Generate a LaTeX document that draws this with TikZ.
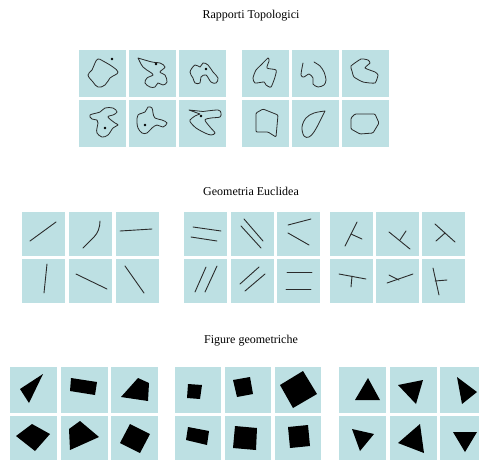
\documentclass[tikz,border=0pt]{standalone}
\usepackage{fontspec}
\setmainfont{Liberation Serif}
\definecolor{tilebg}{HTML}{BDE0E3}
\definecolor{ink}{HTML}{2B2B2B}
\newcommand\tile[5]{\begin{scope}[shift={(#1,#2)}]\fill[tilebg] (0,0) rectangle (#3,#4);#5\end{scope}}
\begin{document}
\begin{tikzpicture}[x=1pt,y=-1pt,
  crv/.style={draw=ink,line width=0.8pt,line join=round,line cap=round},
  seg/.style={draw=ink,line width=0.9pt,line cap=round},
  blk/.style={fill=black},
  ttl/.style={font=\fontsize{12}{14}\selectfont,anchor=base,inner sep=0pt}]
\useasboundingbox (0,0) rectangle (479,459);
\clip (0,0) rectangle (479,459);

% titles
\node[ttl] (t1) at (251,18) {Rapporti Topologici};
\node[ttl] (t2) at (251,195) {Geometria Euclidea};
\node[ttl] (t3) at (251,343) {Figure geometriche};

% ---------- Rapporti topologici, group 1
\tile{79}{50}{47}{47}{
  \draw[crv] plot[smooth cycle,tension=0.7] coordinates {(19,9) (24,11) (34,17) (39,22) (36,25) (31,28) (26,35) (19,37) (14,32) (9,25) (13,20) (16,13)};
  \fill (33,9) circle (1.4);}
\tile{129}{50}{47}{47}{
  \draw[crv] plot[smooth,tension=0.6] coordinates {(9,8) (23,12) (31,13) (36,17) (31,22) (36,25) (38,32) (34,35) (29,33) (26,37) (21,37) (16,33) (18,28) (24,25) (21,22) (14,17) (9,8)};
  \fill (27,14) circle (1.4);}
\tile{179}{50}{47}{47}{
  \draw[crv] plot[smooth cycle,tension=0.6] coordinates {(11,22) (16,15) (21,17) (24,13) (29,15) (34,22) (39,28) (37,33) (32,32) (27,25) (22,27) (21,33) (16,33) (14,28)};
  \fill (27,19) circle (1.4);}
\tile{79}{100}{47}{47}{
  \draw[crv] plot[smooth cycle,tension=0.6] coordinates {(11,15) (21,12) (26,8) (34,8) (38,12) (34,15) (29,17) (36,23) (39,25) (34,28) (29,35) (23,37) (18,33) (18,28) (19,23) (18,20) (13,19)};
  \fill (26,28) circle (1.4);}
\tile{129}{100}{47}{47}{
  \draw[crv] plot[smooth cycle,tension=0.6] coordinates {(9,15) (16,12) (19,7) (23,8) (24,13) (26,18) (33,20) (38,23) (34,27) (28,25) (23,28) (18,33) (13,33) (9,28) (8,22)};
  \fill (16,25) circle (1.4);}
\tile{179}{100}{47}{47}{
  \draw[crv] plot[smooth,tension=0.5] coordinates {(21,14) (16,16) (11,20) (12,23) (17,28) (26,33) (32,35) (36,33) (31,27) (26,20) (32,18) (41,17) (42,13) (39,10) (24,11.5)} -- (10,10) -- (21,14);
  \fill (22,16) circle (1.4);}

% ---------- Rapporti topologici, group 2
\tile{242}{50}{47}{47}{
  \draw[crv] plot[smooth cycle,tension=0.4] coordinates {(26,8) (27,11) (25,18) (34,20) (33,27) (29,37) (24,35) (22,32) (13,33) (11,28) (14,20) (19,15)};}
\tile{292}{50}{47}{47}{
  \draw[crv] plot[smooth,tension=0.5] coordinates {(11,13) (9,25) (12,27) (17,24) (21,28) (21,34) (26,37) (32,35) (34,30) (32,22) (28,16) (22,12)};}
\tile{342}{50}{47}{47}{
  \draw[crv] plot[smooth cycle,tension=0.3] coordinates {(9,16) (19,9) (26,10) (28,13) (23,18) (33,22) (36,25) (33,33) (21,32) (12,27) (10,21)};}
\tile{242}{100}{47}{47}{
  \draw[crv,rounded corners=1pt] (14,13) -- (21,9) -- (36,15) -- (34,37) -- (26,32) -- (14,32) -- cycle;}
\tile{292}{100}{47}{47}{
  \draw[crv] plot[smooth,tension=0.6] coordinates {(33,11) (22,13) (14,18) (10,27) (12,36) (17,37) (22,32) (27,23) (33,11)};}
\tile{342}{100}{47}{47}{
  \draw[crv,rounded corners=1pt] (9,18) -- (13,14) -- (33,14) -- (37,23) -- (31,33) -- (18,34) -- (9,29) -- cycle;}

% ---------- Geometria euclidea, group A
\tile{22}{212}{43}{44}{\draw[seg] (8,29) -- (34,10);}
\tile{69}{212}{43}{44}{\draw[seg] (14,36) -- (25,25) .. controls (29,21) and (31,15) .. (31,9);}
\tile{116}{212}{43}{44}{\draw[seg] (4,19) -- (36,17);}
\tile{22}{259}{43}{44}{\draw[seg] (22,34) -- (25,5);}
\tile{69}{259}{43}{44}{\draw[seg] (7,15) -- (38,30);}
\tile{116}{259}{43}{44}{\draw[seg] (9,7) -- (28,34);}

% group B
\tile{184}{212}{43}{44}{\draw[seg] (9,15) -- (37,19); \draw[seg] (7,25) -- (33,29);}
\tile{231}{212}{43}{44}{\draw[seg] (13,7) -- (32,29); \draw[seg] (10,14) -- (30,36);}
\tile{277}{212}{43}{44}{\draw[seg] (11,13) -- (34,7); \draw[seg] (11,21) -- (32,33);}
\tile{184}{259}{43}{44}{\draw[seg] (22,8) -- (11,33); \draw[seg] (33,7) -- (21,33);}
\tile{231}{259}{43}{44}{\draw[seg] (28,8) -- (9,25); \draw[seg] (34,15) -- (14,32);}
\tile{277}{259}{43}{44}{\draw[seg] (10,13) -- (35,13); \draw[seg] (9,30) -- (34,30);}

% group C
\tile{330}{212}{43}{44}{\draw[seg] (27,10) -- (15,34); \draw[seg] (21,22) -- (32,27);}
\tile{376}{212}{43}{44}{\draw[seg] (13,20) -- (34,37); \draw[seg] (24,28) -- (30,19);}
\tile{422}{212}{43}{44}{\draw[seg] (13,12) -- (33,30); \draw[seg] (23,21) -- (14,29);}
\tile{330}{259}{43}{44}{\draw[seg] (9,15) -- (36,20); \draw[seg] (22,17) -- (21,28);}
\tile{376}{259}{43}{44}{\draw[seg] (11,24) -- (37,15); \draw[seg] (13,16) -- (23,21);}
\tile{422}{259}{43}{44}{\draw[seg] (11,9) -- (17,36); \draw[seg] (13,22) -- (25,21);}

% ---------- Figure geometriche, group A
\tile{10}{367}{47}{46}{\fill[blk] (33,7) -- (10,22) -- (19,36) -- cycle;}
\tile{61}{367}{47}{46}{\fill[blk] (10,11) -- (36,15) -- (34,28) -- (9,24) -- cycle;}
\tile{111}{367}{47}{46}{\fill[blk] (27,11) -- (38,16) -- (37,34) -- (10,30) -- cycle;}
\tile{10}{416}{47}{47}{\fill[blk] (22,8) -- (40,18) -- (25,35) -- (6,20) -- cycle;}
\tile{61}{416}{47}{47}{\fill[blk] (19,5) -- (38,21) -- (9,34) -- (8,13) -- cycle;}
\tile{111}{416}{47}{47}{\fill[blk] (19,8) -- (39,18) -- (29,37) -- (9,27) -- cycle;}

% group B
\tile{175}{367}{46}{46}{\fill[blk] (13,17) -- (27,18) -- (25,32) -- (12,31) -- cycle;}
\tile{225}{367}{46}{46}{\fill[blk] (8,13) -- (25,10) -- (28,27) -- (12,30) -- cycle;}
\tile{275}{367}{46}{46}{\fill[blk] (5,18) -- (28,4) -- (42,27) -- (18,41) -- cycle;}
\tile{175}{416}{46}{47}{\fill[blk] (13,11) -- (34,15) -- (32,29) -- (11,24) -- cycle;}
\tile{225}{416}{46}{47}{\fill[blk] (10,10) -- (32,12) -- (31,34) -- (8,32) -- cycle;}
\tile{275}{416}{46}{47}{\fill[blk] (13,11) -- (33,9) -- (35,30) -- (15,32) -- cycle;}

% group C
\tile{339}{367}{47}{46}{\fill[blk] (29,11) -- (41,33) -- (16,33) -- cycle;}
\tile{390}{367}{47}{46}{\fill[blk] (8,18) -- (33,13) -- (26,37) -- cycle;}
\tile{440}{367}{47}{46}{\fill[blk] (17,10) -- (37,25) -- (22,37) -- cycle;}
\tile{339}{416}{47}{47}{\fill[blk] (13,13) -- (35,18) -- (21,35) -- cycle;}
\tile{390}{416}{47}{47}{\fill[blk] (30,8) -- (34,37) -- (8,27) -- cycle;}
\tile{440}{416}{47}{47}{\fill[blk] (13,16) -- (37,16) -- (25,36) -- cycle;}
\end{tikzpicture}
\end{document}
